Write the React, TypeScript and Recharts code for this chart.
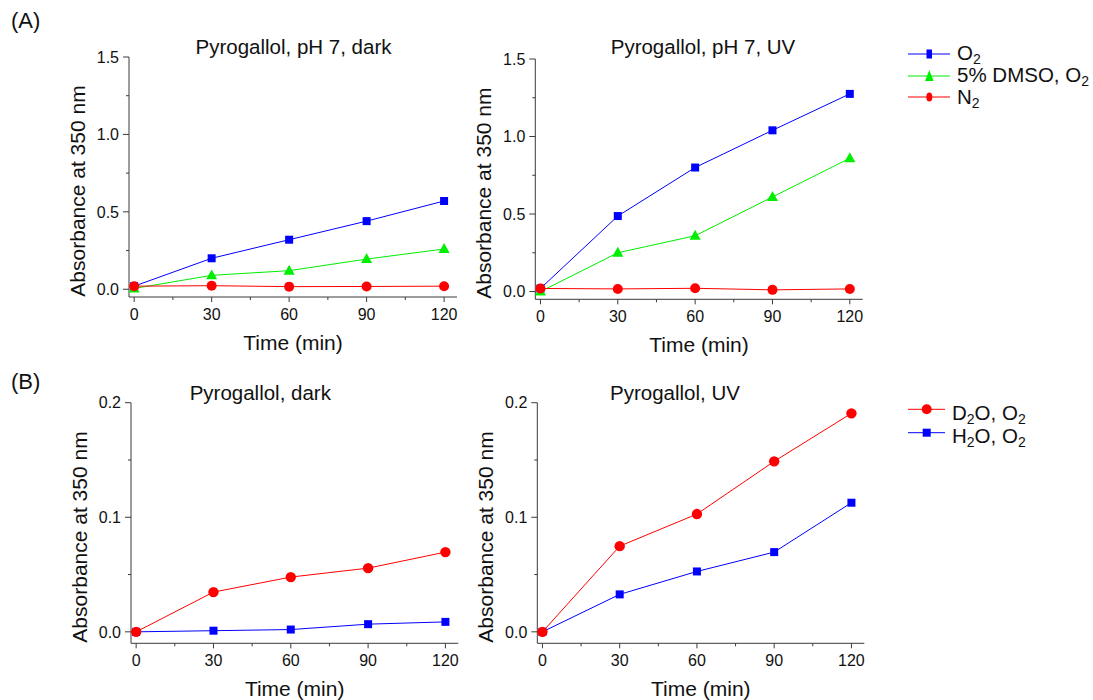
import React from 'react';
import { LineChart, Line, XAxis, YAxis, Label } from 'recharts';

// ---------- data ----------
const times = [0, 30, 60, 90, 120];
const xMajorTicks = [0, 30, 60, 90, 120];
const xMinorTicks = [15, 45, 75, 105];
const yMajorTicksA = [0, 0.5, 1.0, 1.5];
const yMinorTicksA = [0.25, 0.75, 1.25];
const yMajorTicksB = [0, 0.1, 0.2];
const yMinorTicksB = [0.05, 0.15];

const darkO2 = [0.02, 0.2, 0.32, 0.44, 0.57];
const darkDmso = [0.005, 0.09, 0.12, 0.195, 0.26];
const darkN2 = [0.02, 0.023, 0.017, 0.018, 0.02];
const uvO2 = [0.02, 0.487, 0.8, 1.04, 1.275];
const uvDmso = [0.0, 0.25, 0.36, 0.61, 0.86];
const uvN2 = [0.02, 0.017, 0.021, 0.011, 0.017];
const darkD2O = [0, 0.0347, 0.0478, 0.0556, 0.0696];
const darkH2O = [0, 0.001, 0.002, 0.0067, 0.0087];
const uvD2O = [0, 0.0748, 0.1028, 0.1488, 0.1907];
const uvH2O = [0, 0.0327, 0.0527, 0.0696, 0.1127];

const titles = ['Pyrogallol, pH 7, dark', 'Pyrogallol, pH 7, UV', 'Pyrogallol, dark', 'Pyrogallol, UV'];
const xLabel = 'Time (min)';
const yLabel = 'Absorbance at 350 nm';

// ---------- styles ----------
const FONT = '"Liberation Sans", Arial, sans-serif';
const AXIS = '#3a3a3a';
const TEXT = '#111';
const BLUE = '#0000ff';
const GREEN = '#00ee00';
const RED = '#ff0000';

const dataA_dark = times.map((t, i) => ({ t, o2: darkO2[i], dmso: darkDmso[i], n2: darkN2[i] }));
const dataA_uv = times.map((t, i) => ({ t, o2: uvO2[i], dmso: uvDmso[i], n2: uvN2[i] }));
const dataB_dark = times.map((t, i) => ({ t, d2o: darkD2O[i], h2o: darkH2O[i] }));
const dataB_uv = times.map((t, i) => ({ t, d2o: uvD2O[i], h2o: uvH2O[i] }));

const isIn = (arr: number[], v: number) => arr.some((m) => Math.abs(m - v) < 1e-9);

const makeXTick = (majors: number[]) => (props: any) => {
  const { x, y, payload } = props;
  const v = payload.value;
  const major = isIn(majors, v);
  return (
    <g>
      <line x1={x} x2={x} y1={y} y2={y + (major ? 5 : 3)} stroke={AXIS} strokeWidth={1} />
      {major && (
        <text x={x} y={y + 23} textAnchor="middle" fontSize={16} fill={TEXT} fontFamily={FONT}>
          {String(v)}
        </text>
      )}
    </g>
  );
};

const makeYTick = (majors: number[]) => (props: any) => {
  const { x, y, payload } = props;
  const v = payload.value;
  const major = isIn(majors, v);
  return (
    <g>
      <line x1={x - (major ? 6 : 3)} x2={x} y1={y} y2={y} stroke={AXIS} strokeWidth={1} />
      {major && (
        <text x={x - 10} y={y + 5.7} textAnchor="end" fontSize={16} fill={TEXT} fontFamily={FONT}>
          {v.toFixed(1)}
        </text>
      )}
    </g>
  );
};

const XLabelContent = (props: any) => {
  const vb = props.viewBox;
  return (
    <text x={vb.x + vb.width / 2} y={vb.y + 53} textAnchor="middle" fontSize={21} fill={TEXT} fontFamily={FONT}>
      {xLabel}
    </text>
  );
};

const YLabelContent = (props: any) => {
  const vb = props.viewBox;
  const cx = vb.x + vb.width - 44;
  const cy = vb.y + vb.height / 2 + 14;
  return (
    <text x={cx} y={cy} transform={`rotate(-90 ${cx} ${cy})`} textAnchor="middle" fontSize={21} fill={TEXT} fontFamily={FONT}>
      {yLabel}
    </text>
  );
};

const squareDot = (color: string, s: number) => (p: any) => (
  <rect key={`s${p.index}`} x={p.cx - s / 2} y={p.cy - s / 2} width={s} height={s} fill={color} />
);
const circleDot = (color: string, r: number) => (p: any) => (
  <circle key={`c${p.index}`} cx={p.cx} cy={p.cy} r={r} fill={color} />
);
const triDot = (color: string, s: number) => (p: any) => {
  const h = s * 0.9;
  return (
    <polygon
      key={`t${p.index}`}
      points={`${p.cx},${p.cy - h * 0.6} ${p.cx - s / 2},${p.cy + h * 0.4} ${p.cx + s / 2},${p.cy + h * 0.4}`}
      fill={color}
    />
  );
};

type Panel = {
  left: number;
  top: number;
  w: number;
  h: number;
  pl: number;
  pt: number;
  pr: number;
  pb: number;
};

const Y_W = 60;
const X_H = 50;

const PanelChart = ({ panel, data, yDomain, yTicks, yMajors, children }: any) => {
  const p: Panel = panel;
  const margin = {
    left: p.pl - Y_W,
    top: p.pt,
    right: p.w - p.pr,
    bottom: p.h - p.pb - X_H,
  };
  return (
    <div style={{ position: 'absolute', left: p.left, top: p.top, width: p.w, height: p.h }}>
      <LineChart width={p.w} height={p.h} data={data} margin={margin}>
        <XAxis
          dataKey="t"
          type="number"
          domain={[-2, 125]}
          ticks={[...xMajorTicks, ...xMinorTicks].sort((a, b) => a - b)}
          interval={0}
          height={X_H}
          tickSize={0}
          tickMargin={0}
          tickLine={false}
          axisLine={{ stroke: AXIS, strokeWidth: 1 }}
          tick={makeXTick(xMajorTicks)}
        >
          <Label content={XLabelContent} />
        </XAxis>
        <YAxis
          type="number"
          domain={yDomain}
          ticks={yTicks}
          interval={0}
          width={Y_W}
          tickSize={0}
          tickMargin={0}
          tickLine={false}
          axisLine={{ stroke: AXIS, strokeWidth: 1 }}
          tick={makeYTick(yMajors)}
        >
          <Label content={YLabelContent} />
        </YAxis>
        {children}
      </LineChart>
    </div>
  );
};

const P1: Panel = { left: 0, top: 0, w: 470, h: 370, pl: 129, pt: 57, pr: 457, pb: 297 };
const P2: Panel = { left: 470, top: 0, w: 410, h: 370, pl: 65.3, pt: 59, pr: 392.7, pb: 299.3 };
const P3: Panel = { left: 0, top: 370, w: 470, h: 330, pl: 131, pt: 32.7, pr: 458.3, pb: 273.3 };
const P4: Panel = { left: 470, top: 370, w: 410, h: 330, pl: 67.3, pt: 32.7, pr: 394.3, pb: 273.3 };

const yTicksA = [...yMajorTicksA, ...yMinorTicksA].sort((a, b) => a - b);
const yTicksB = [...yMajorTicksB, ...yMinorTicksB].sort((a, b) => a - b);

const SUB = 14;
const SUBDY = 4;

export default function App() {
  const seriesA = (keyPrefix: string) => [
    <Line key={keyPrefix + 'o2'} type="linear" dataKey="o2" stroke={BLUE} strokeWidth={1} dot={squareDot(BLUE, 8)} activeDot={false} isAnimationActive={false} />,
    <Line key={keyPrefix + 'dmso'} type="linear" dataKey="dmso" stroke={GREEN} strokeWidth={1} dot={triDot(GREEN, 11)} activeDot={false} isAnimationActive={false} />,
    <Line key={keyPrefix + 'n2'} type="linear" dataKey="n2" stroke={RED} strokeWidth={1} dot={circleDot(RED, 5)} activeDot={false} isAnimationActive={false} />,
  ];
  const seriesB = (keyPrefix: string) => [
    <Line key={keyPrefix + 'h2o'} type="linear" dataKey="h2o" stroke={BLUE} strokeWidth={1} dot={squareDot(BLUE, 8)} activeDot={false} isAnimationActive={false} />,
    <Line key={keyPrefix + 'd2o'} type="linear" dataKey="d2o" stroke={RED} strokeWidth={1} dot={circleDot(RED, 5.2)} activeDot={false} isAnimationActive={false} />,
  ];

  return (
    <div style={{ position: 'absolute', left: 0, top: 0, width: 1093, height: 700, background: '#fff', fontFamily: FONT }}>
      <PanelChart panel={P1} data={dataA_dark} yDomain={[-0.05, 1.5]} yTicks={yTicksA} yMajors={yMajorTicksA}>
        {seriesA('a')}
      </PanelChart>
      <PanelChart panel={P2} data={dataA_uv} yDomain={[-0.05, 1.5]} yTicks={yTicksA} yMajors={yMajorTicksA}>
        {seriesA('b')}
      </PanelChart>
      <PanelChart panel={P3} data={dataB_dark} yDomain={[-0.01, 0.2]} yTicks={yTicksB} yMajors={yMajorTicksB}>
        {seriesB('c')}
      </PanelChart>
      <PanelChart panel={P4} data={dataB_uv} yDomain={[-0.01, 0.2]} yTicks={yTicksB} yMajors={yMajorTicksB}>
        {seriesB('d')}
      </PanelChart>

      <svg
        width={1093}
        height={700}
        style={{ position: 'absolute', left: 0, top: 0, pointerEvents: 'none' }}
        fontFamily={FONT}
      >
        <text x={11} y={28} fontSize={22} fill={TEXT}>(A)</text>
        <text x={11} y={389} fontSize={22} fill={TEXT}>(B)</text>

        <text x={293.5} y={54} textAnchor="middle" fontSize={20.5} fill={TEXT}>{titles[0]}</text>
        <text x={703} y={54} textAnchor="middle" fontSize={20.5} fill={TEXT}>{titles[1]}</text>
        <text x={260.3} y={400} textAnchor="middle" fontSize={20.5} fill={TEXT}>{titles[2]}</text>
        <text x={675} y={400} textAnchor="middle" fontSize={20.5} fill={TEXT}>{titles[3]}</text>

        {/* legend A */}
        <g>
          <line x1={908} x2={950} y1={54} y2={54} stroke={BLUE} strokeOpacity={0.5} strokeWidth={2.2} />
          <rect x={926.5} y={49.5} width={5.5} height={9} fill={BLUE} />
          <text x={957} y={60} fontSize={20.5} fill={TEXT}>
            O<tspan fontSize={SUB} dy={SUBDY}>2</tspan>
          </text>

          <line x1={908} x2={950} y1={76} y2={76} stroke={GREEN} strokeOpacity={0.5} strokeWidth={2.2} />
          <polygon points="929.3,70 925,81 933.6,81" fill={GREEN} />
          <text x={957} y={82} fontSize={20.5} fill={TEXT}>
            5% DMSO, O<tspan fontSize={SUB} dy={SUBDY}>2</tspan>
          </text>

          <line x1={908} x2={950} y1={97} y2={97} stroke={RED} strokeOpacity={0.5} strokeWidth={2.2} />
          <ellipse cx={929.3} cy={97} rx={3} ry={4.6} fill={RED} />
          <text x={957} y={103.5} fontSize={20.5} fill={TEXT}>
            N<tspan fontSize={SUB} dy={SUBDY}>2</tspan>
          </text>
        </g>

        {/* legend B */}
        <g>
          <line x1={908} x2={945} y1={409.3} y2={409.3} stroke={RED} strokeWidth={1} />
          <circle cx={926.7} cy={409.3} r={5} fill={RED} />
          <text x={952} y={420} fontSize={20.5} fill={TEXT}>
            D<tspan fontSize={SUB} dy={SUBDY}>2</tspan>
            <tspan dy={-SUBDY}>O, O</tspan>
            <tspan fontSize={SUB} dy={SUBDY}>2</tspan>
          </text>

          <line x1={908} x2={945} y1={432.7} y2={432.7} stroke={BLUE} strokeWidth={1} />
          <rect x={922.7} y={428.7} width={8} height={8} fill={BLUE} />
          <text x={952} y={443.3} fontSize={20.5} fill={TEXT}>
            H<tspan fontSize={SUB} dy={SUBDY}>2</tspan>
            <tspan dy={-SUBDY}>O, O</tspan>
            <tspan fontSize={SUB} dy={SUBDY}>2</tspan>
          </text>
        </g>
      </svg>
    </div>
  );
}
